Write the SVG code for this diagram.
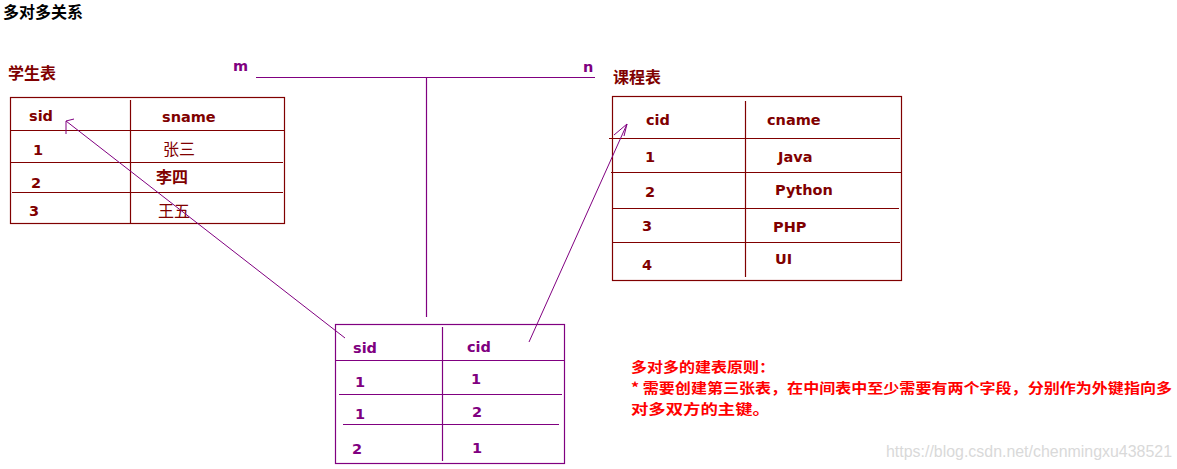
<svg xmlns="http://www.w3.org/2000/svg" width="1177" height="469" viewBox="0 0 1177 469">
<style>
  .t { font-family: "DejaVu Sans", "Liberation Sans", sans-serif; font-weight: bold; font-size: 14.5px; }
  .cjk { font-family: "Noto Sans CJK SC", sans-serif; font-weight: bold; font-size: 16px; }
  .dr { fill: #800000; }
  .pu { fill: #800080; }
  .ld { stroke: #800000; stroke-width: 1.2; fill: none; }
  .lp { stroke: #800080; stroke-width: 1.2; fill: none; }
  .arr { stroke: #800080; stroke-width: 1; fill: none; }
</style>
<rect width="1177" height="469" fill="#ffffff"/>
<text class="cjk" x="3" y="18" fill="#000000" font-size="15.5">多对多关系</text>

<g id="students">
  <text class="cjk dr" x="8" y="79">学生表</text>
  <rect class="ld" x="10.5" y="97.5" width="274" height="126"/>
  <line class="ld" x1="130.5" y1="100" x2="130.5" y2="224"/>
  <line class="ld" x1="10" y1="130.5" x2="284" y2="130.5"/>
  <line class="ld" x1="10" y1="162.5" x2="283" y2="162.5"/>
  <line class="ld" x1="12" y1="192.5" x2="283" y2="192.5"/>
  <text class="t dr" x="29" y="121">sid</text>
  <text class="t dr" x="162" y="122">sname</text>
  <text class="t dr" x="33" y="155">1</text>
  <text class="cjk dr" x="163" y="155" style="font-weight:normal">张三</text>
  <text class="t dr" x="31" y="188">2</text>
  <text class="cjk dr" x="156" y="183">李四</text>
  <text class="t dr" x="29" y="216">3</text>
  <text class="cjk dr" x="158" y="217" style="font-weight:normal">王五</text>
</g>

<g id="courses">
  <text class="cjk dr" x="613" y="83">课程表</text>
  <rect class="ld" x="612.5" y="96.5" width="289" height="184"/>
  <line class="ld" x1="745.5" y1="101" x2="745.5" y2="277"/>
  <line class="ld" x1="609" y1="138.5" x2="900" y2="138.5"/>
  <line class="ld" x1="611" y1="172.5" x2="901" y2="172.5"/>
  <line class="ld" x1="612" y1="208.5" x2="899" y2="208.5"/>
  <line class="ld" x1="612" y1="242.5" x2="900" y2="242.5"/>
  <text class="t dr" x="646" y="125">cid</text>
  <text class="t dr" x="767" y="125">cname</text>
  <text class="t dr" x="645" y="162">1</text>
  <text class="t dr" x="778" y="162">Java</text>
  <text class="t dr" x="775" y="195">Python</text>
  <text class="t dr" x="645" y="197">2</text>
  <text class="t dr" x="642" y="231">3</text>
  <text class="t dr" x="773" y="232">PHP</text>
  <text class="t dr" x="642" y="270">4</text>
  <text class="t dr" x="775" y="264">UI</text>
</g>

<g id="junction">
  <rect class="lp" x="335.5" y="324.5" width="229" height="139"/>
  <line class="lp" x1="442.5" y1="327" x2="442.5" y2="461"/>
  <line class="lp" x1="335" y1="360.5" x2="565" y2="360.5"/>
  <line class="lp" x1="339" y1="394.5" x2="562" y2="394.5"/>
  <line class="lp" x1="343" y1="424.5" x2="559" y2="424.5"/>
  <text class="t pu" x="353" y="353">sid</text>
  <text class="t pu" x="467" y="352">cid</text>
  <text class="t pu" x="355" y="387">1</text>
  <text class="t pu" x="471" y="384">1</text>
  <text class="t pu" x="355" y="419">1</text>
  <text class="t pu" x="472" y="417">2</text>
  <text class="t pu" x="352" y="454">2</text>
  <text class="t pu" x="472" y="453">1</text>
</g>

<g id="relation">
  <text class="t pu" x="233" y="71">m</text>
  <text class="t pu" x="583" y="72">n</text>
</g>

<g id="connectors">
  <line class="lp" x1="256" y1="77.5" x2="595" y2="77.5"/>
  <line class="lp" x1="426.5" y1="77" x2="426.5" y2="317"/>
  <line class="arr" x1="345" y1="338" x2="66" y2="121"/>
  <polyline class="arr" points="74,119 66,121 66,134"/>
  <line class="arr" x1="529" y1="342" x2="627" y2="124"/>
  <polyline class="arr" points="614,135 627,124 624,136"/>
</g>

<g id="note" font-family="'Noto Sans CJK SC', sans-serif" font-weight="bold" font-size="14" fill="#ff0000">
  <text x="631" y="372" textLength="144" lengthAdjust="spacingAndGlyphs">多对多的建表原则：</text>
  <text x="631" y="393" textLength="541" lengthAdjust="spacingAndGlyphs">* 需要创建第三张表，在中间表中至少需要有两个字段，分别作为外键指向多</text>
  <text x="631" y="414" textLength="139" lengthAdjust="spacingAndGlyphs">对多双方的主键。</text>
</g>

<text x="886" y="457" font-family="'Liberation Sans', sans-serif" font-size="16" fill="#d9d9d9" textLength="286" lengthAdjust="spacingAndGlyphs">https://blog.csdn.net/chenmingxu438521</text>
</svg>
